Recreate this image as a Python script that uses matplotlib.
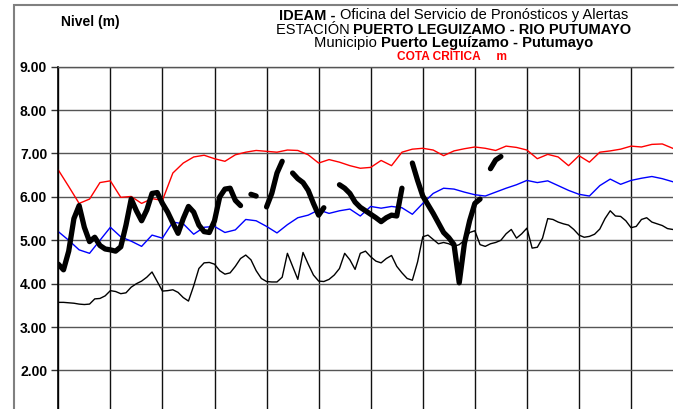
import numpy as np
import matplotlib
matplotlib.use('Agg')
import matplotlib.pyplot as plt
from matplotlib.patches import Rectangle

plt.rcParams['font.family'] = ['Liberation Sans', 'DejaVu Sans']

W, H = 678, 409

# historical daily levels (m)
days = np.arange(60)
nivel_max = [6.62, 6.24, 5.85, 5.95, 6.33, 6.37, 5.99, 6.01, 5.85, 5.96,
             5.92, 6.55, 6.78, 6.92, 6.96, 6.88, 6.82, 6.97, 7.03, 7.07,
             7.05, 7.03, 7.08, 7.07, 6.97, 6.78, 6.86, 6.80, 6.72, 6.66,
             6.68, 6.84, 6.72, 7.03, 7.10, 7.12, 7.08, 6.95, 7.06, 7.11,
             7.15, 7.12, 7.07, 7.17, 7.14, 7.08, 6.88, 6.98, 6.92, 6.72,
             6.95, 6.80, 7.03, 7.06, 7.10, 7.17, 7.15, 7.21, 7.22, 7.12]
nivel_medio = [5.20, 5.00, 4.78, 4.70, 5.00, 5.30, 5.08, 4.98, 4.86, 5.12,
               5.05, 5.42, 5.38, 5.14, 5.30, 5.32, 5.18, 5.24, 5.48, 5.45,
               5.32, 5.17, 5.36, 5.52, 5.58, 5.70, 5.62, 5.68, 5.72, 5.56,
               5.78, 5.74, 5.78, 5.75, 5.60, 5.85, 6.08, 6.20, 6.18, 6.11,
               6.05, 6.02, 6.11, 6.20, 6.28, 6.38, 6.33, 6.37, 6.26, 6.15,
               6.06, 6.02, 6.26, 6.41, 6.29, 6.38, 6.43, 6.47, 6.42, 6.35]

# minimum level, every half day
dias_min = np.arange(0, 59.5, 0.5)
nivel_min = [3.57, 3.57, 3.56, 3.55, 3.53, 3.52, 3.53, 3.65, 3.66, 3.72,
             3.84, 3.82, 3.77, 3.79, 3.92, 4.00, 4.06, 4.15, 4.27, 4.05,
             3.83, 3.84, 3.86, 3.80, 3.68, 3.60, 3.95, 4.35, 4.48, 4.49,
             4.45, 4.30, 4.22, 4.25, 4.40, 4.58, 4.66, 4.55, 4.30, 4.12,
             4.05, 4.04, 4.04, 4.15, 4.70, 4.40, 4.10, 4.72, 4.45, 4.20,
             4.06, 4.05, 4.10, 4.20, 4.35, 4.70, 4.55, 4.33, 4.70, 4.75,
             4.62, 4.52, 4.48, 4.58, 4.65, 4.40, 4.25, 4.12, 4.08, 4.50,
             5.08, 5.12, 5.02, 4.92, 4.95, 4.92, 4.86, 4.90, 5.00, 5.18,
             5.22, 4.90, 4.86, 4.92, 4.95, 5.00, 5.15, 5.25, 5.05, 5.15,
             5.28, 4.82, 4.84, 5.05, 5.50, 5.48, 5.42, 5.38, 5.35, 5.25,
             5.12, 5.07, 5.09, 5.14, 5.26, 5.50, 5.68, 5.56, 5.55, 5.45,
             5.29, 5.32, 5.48, 5.52, 5.42, 5.38, 5.34, 5.27, 5.25]

# current observations, every half day (nan = no reading)
nan = np.nan
dias_obs = np.arange(0, 43, 0.5)
nivel_obs = [4.45, 4.32, 4.75, 5.50, 5.80, 5.30, 4.97, 5.07, 4.88, 4.80,
             4.78, 4.75, 4.85, 5.35, 5.95, 5.68, 5.45, 5.70, 6.08, 6.10,
             5.85, 5.65, 5.40, 5.16, 5.50, 5.78, 5.65, 5.35, 5.20, 5.18,
             5.45, 6.00, 6.18, 6.20, 5.92, 5.80, nan, 6.06, 6.02, nan,
             5.77, 6.08, 6.55, 6.82, nan, 6.55, 6.42, 6.33, 6.15, 5.85,
             5.58, 5.75, nan, nan, 6.28, 6.20, 6.08, 5.88, 5.76, 5.68,
             5.60, 5.52, 5.43, 5.52, 5.58, 5.56, 6.20, nan, 6.78, 6.38,
             6.02, 5.82, 5.62, 5.40, 5.18, 5.06, 4.90, 4.02, 4.93, 5.45,
             5.85, 5.95, nan, 6.65, 6.85, 6.93]

y_ticks = [2, 3, 4, 5, 6, 7, 8, 9]

fig = plt.figure(figsize=(W / 100, H / 100), dpi=100, facecolor='w')
ax = fig.add_axes([58.3 / W, (H - 413.9) / H, 614.4 / W, 347.2 / H])

ax.plot(days, nivel_max, color='#ff0000', lw=1.0)
ax.plot(days, nivel_medio, color='#0000ff', lw=1.0)
ax.plot(dias_min, nivel_min, color='black', lw=1.0)
ax.plot(dias_obs, nivel_obs, color='black', lw=3.8,
        solid_capstyle='round', solid_joinstyle='round')

ax.set_xlim(0, 59)
ax.set_ylim(1, 9)
ax.set_xticks(np.arange(0, 60, 5))
ax.set_yticks(y_ticks)
ax.set_yticklabels(['%.2f' % v for v in y_ticks], fontsize=10, fontweight='bold')
ax.tick_params(axis='x', length=0, labelbottom=False)
ax.tick_params(axis='y', direction='out', length=5, width=1, color='#333333', pad=3)
ax.set_axisbelow(True)
ax.xaxis.grid(True, color='#111111', lw=1.0)
ax.yaxis.grid(True, color='#555555', lw=1.0)
for side in ['right', 'bottom']:
    ax.spines[side].set_visible(False)
ax.spines['left'].set_color('black')
ax.spines['left'].set_linewidth(1.2)
ax.spines['top'].set_color('#555555')
ax.spines['top'].set_linewidth(1.0)

# chart border
fig.add_artist(Rectangle((14 / W, -0.5), 2, 1.5 - 5 / H, transform=fig.transFigure,
                         fill=False, edgecolor='#808080', lw=1.5))

fig.text(90 / W, 1 - 22 / H, 'Nivel (m)', fontsize=10, fontweight='bold',
         ha='center', va='center')


def mixed_line(parts, y_px, size, cx=453.5, color='black'):
    texts = [fig.text(0, 1 - y_px / H, s, fontsize=size, fontweight=w, color=color,
                      ha='left', va='center') for s, w in parts]
    r = fig.canvas.get_renderer()
    widths = [t.get_window_extent(r).width for t in texts]
    x = cx - sum(widths) / 2
    for t, wd in zip(texts, widths):
        t.set_x(x / W)
        x += wd


mixed_line([('IDEAM - ', 'bold'),
            ('Oficina del Servicio de Pronósticos y Alertas', 'normal')], 15.5, 10.5)
mixed_line([('ESTACIÓN ', 'normal'),
            ('PUERTO LEGUIZAMO - RIO PUTUMAYO', 'bold')], 29.5, 10.5)
mixed_line([('Municipio ', 'normal'),
            ('Puerto Leguízamo - Putumayo', 'bold')], 43, 10.6)
mixed_line([('COTA CRÍTICA     m', 'bold')], 57, 8.6, cx=452, color='#ff0000')

fig.savefig('out.png', dpi=100, facecolor='w')
